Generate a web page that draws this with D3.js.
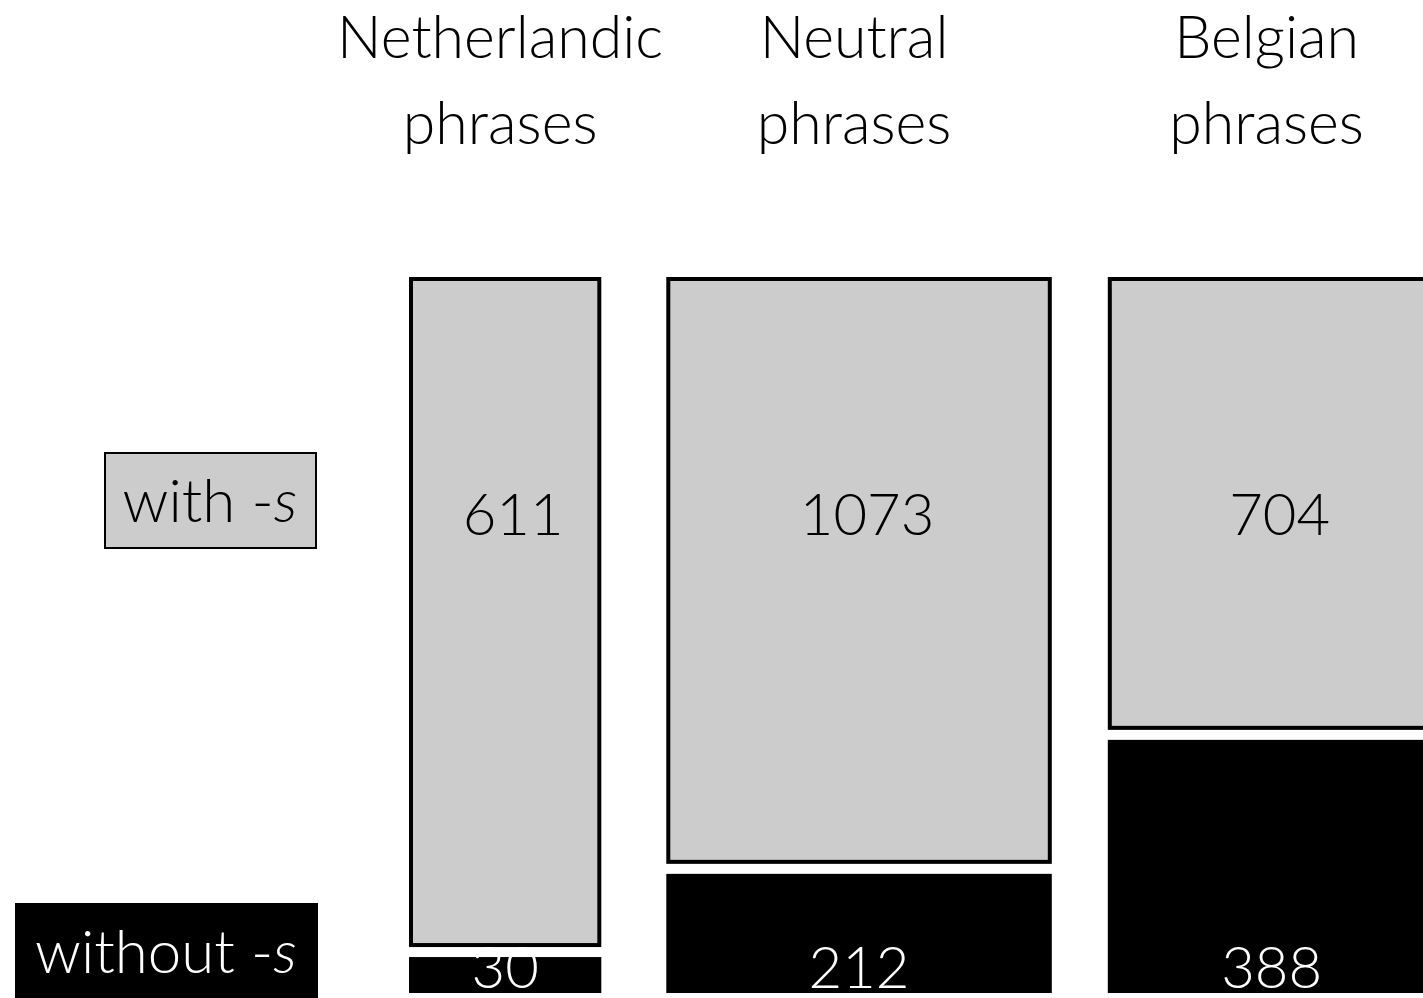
<!DOCTYPE html>
<html>
<head>
<meta charset="utf-8">
<script src="https://cdn.jsdelivr.net/npm/d3@7"></script>
<style>
  html, body { margin: 0; padding: 0; background: #fff; overflow: hidden; }
  svg { display: block; }
  text { font-family: Lato, "Open Sans", "DejaVu Sans", sans-serif; font-weight: 300; }
</style>
</head>
<body>
<svg id="chart" width="1423" height="998"></svg>
<script>
const categories = ["Netherlandic phrases", "Neutral phrases", "Belgian phrases"];
const withS = [611, 1073, 704];
const withoutS = [30, 212, 388];
const seriesLabels = ["with -", "without -"];

(function () {
const svg = d3.select("#chart");
const yTop = 277, yBottom = 993, vGap = 12, blackGap = 9, xLeft = 409;
const hGaps = [0, 65, 56];
const totals = categories.map((c, i) => withS[i] + withoutS[i]);
const grand = d3.sum(totals);
const wScale = d3.scaleLinear().domain([0, grand]).range([0, grand * 0.3]);

let acc = 0, gapAcc = 0;
const cols = categories.map((c, i) => {
  gapAcc += hGaps[i];
  const x0 = xLeft + wScale(acc) + gapAcc;
  const w = wScale(totals[i]);
  acc += totals[i];
  const y = d3.scaleLinear().domain([0, totals[i]]).range([yTop, yBottom - vGap]);
  return { name: c, x0, w, y, withS: withS[i], withoutS: withoutS[i], total: totals[i] };
});

// column headers
cols.forEach(d => {
  const words = d.name.split(" ");
  const t = svg.append("text")
    .attr("text-anchor", "middle")
    .attr("font-size", 59)
    .attr("fill", "#000");
  words.forEach((w, k) => {
    t.append("tspan").attr("x", d.x0 + d.w / 2 - 5).attr("y", 58 + k * 86).text(w);
  });
});

// with -s rects
svg.selectAll("rect.with").data(cols).join("rect")
  .attr("class", "with")
  .attr("x", d => d.x0 + 2)
  .attr("y", d => d.y(0) + 2)
  .attr("width", d => d.w - 4)
  .attr("height", d => d.y(d.withS) - d.y(0) - 5)
  .attr("fill", "#cccccc")
  .attr("stroke", "#000")
  .attr("stroke-width", 4);

// without -s rects
svg.selectAll("rect.without").data(cols).join("rect")
  .attr("class", "without")
  .attr("x", d => d.x0)
  .attr("y", d => d.y(d.withS) + blackGap)
  .attr("width", d => d.w)
  .attr("height", d => yBottom - (d.y(d.withS) + blackGap))
  .attr("fill", "#000");

// value labels
svg.selectAll("text.vw").data(cols).join("text")
  .attr("class", "vw")
  .attr("x", d => d.x0 + d.w / 2 + 8)
  .attr("y", 535)
  .attr("text-anchor", "middle")
  .attr("font-size", 58)
  .attr("fill", "#000")
  .text(d => d.withS);

svg.selectAll("text.vwo").data(cols).join("text")
  .attr("class", "vwo")
  .attr("x", d => d.x0 + d.w / 2)
  .attr("y", 988)
  .attr("text-anchor", "middle")
  .attr("font-size", 58)
  .attr("fill", "#fff")
  .text(d => d.withoutS);

// legend: with -s
svg.append("rect")
  .attr("x", 105).attr("y", 453).attr("width", 211).attr("height", 95)
  .attr("fill", "#cccccc").attr("stroke", "#000").attr("stroke-width", 2);
const l1 = svg.append("text").attr("x", 210).attr("y", 522)
  .attr("text-anchor", "middle").attr("font-size", 60).attr("fill", "#000");
l1.append("tspan").text(seriesLabels[0]);
l1.append("tspan").attr("font-style", "italic").text("s");

// legend: without -s
svg.append("rect")
  .attr("x", 15).attr("y", 903).attr("width", 303).attr("height", 100)
  .attr("fill", "#000");
const l2 = svg.append("text").attr("x", 166).attr("y", 973)
  .attr("text-anchor", "middle").attr("font-size", 60).attr("fill", "#fff");
l2.append("tspan").text(seriesLabels[1]);
l2.append("tspan").attr("font-style", "italic").text("s");
})();
</script>
</body>
</html>
